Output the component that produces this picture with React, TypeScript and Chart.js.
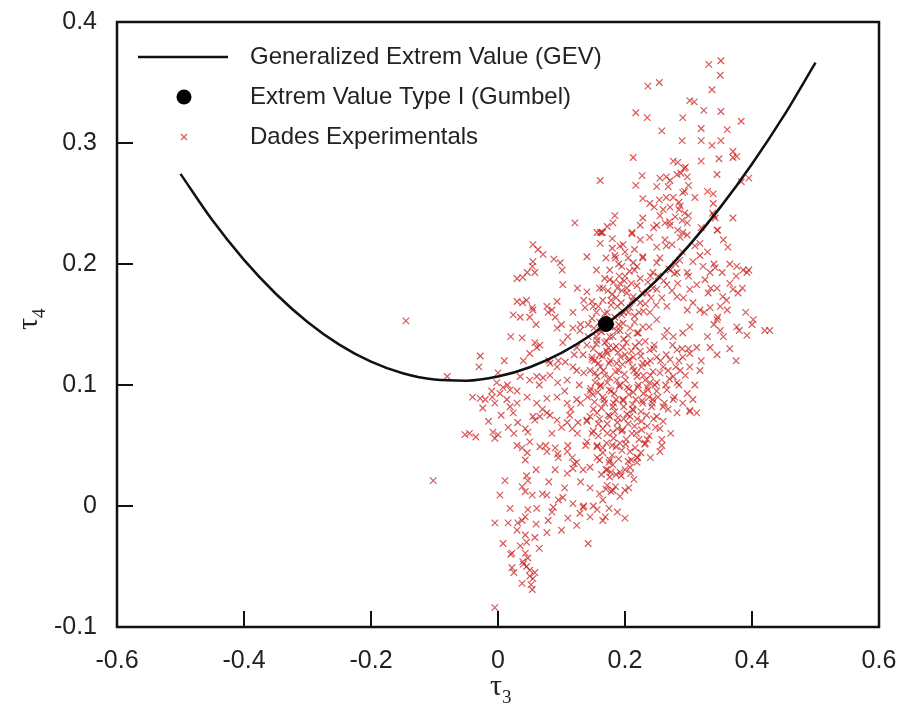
import React, { useEffect, useRef } from "react";
import { Chart, registerables } from "chart.js";

Chart.register(...registerables);

// GEV theoretical curve (tau3, tau4)
const GEV_T3 = [-0.5, -0.45, -0.4, -0.35, -0.3, -0.25, -0.2, -0.15, -0.1, -0.05, 0, 0.05, 0.1, 0.15, 0.2, 0.25, 0.3, 0.35, 0.4, 0.45, 0.5];
const GEV_T4 = [0.2745, 0.2363, 0.2034, 0.1754, 0.1521, 0.1334, 0.1193, 0.1097, 0.1045, 0.1036, 0.107, 0.1147, 0.1265, 0.1425, 0.1626, 0.1867, 0.2148, 0.2468, 0.2827, 0.3224, 0.3665];

// Gumbel point
const GUMBEL: [number, number] = [0.1699, 0.1504];

// Experimental data (tau3, tau4), grouped by region
const EXP_UPPER: [number, number][] = [
  [0.332, 0.365], [0.351, 0.368], [0.350, 0.356], [0.236, 0.347], [0.254, 0.350], [0.337, 0.344],
  [0.302, 0.335], [0.309, 0.334], [0.324, 0.327], [0.351, 0.326], [0.217, 0.325], [0.235, 0.321],
  [0.291, 0.321], [0.383, 0.318], [0.320, 0.312], [0.361, 0.311], [0.258, 0.310], [0.290, 0.302],
  [0.320, 0.302], [0.337, 0.298], [0.351, 0.302], [0.370, 0.293], [0.376, 0.289], [0.370, 0.288],
  [0.213, 0.288], [0.348, 0.287], [0.276, 0.285], [0.283, 0.284], [0.293, 0.279], [0.345, 0.274],
  [0.161, 0.269], [0.227, 0.273], [0.217, 0.265], [0.255, 0.271], [0.265, 0.272], [0.271, 0.269],
  [0.282, 0.274], [0.288, 0.275], [0.298, 0.272], [0.383, 0.268], [0.395, 0.271], [0.250, 0.264],
  [0.268, 0.264], [0.339, 0.258], [0.339, 0.250], [0.291, 0.259], [0.294, 0.260], [0.228, 0.254],
  [0.239, 0.250], [0.254, 0.253], [0.265, 0.255], [0.276, 0.255], [0.285, 0.251], [0.246, 0.247],
  [0.260, 0.245], [0.271, 0.247], [0.287, 0.248], [0.340, 0.240], [0.342, 0.238], [0.338, 0.242],
  [0.370, 0.238], [0.121, 0.234], [0.184, 0.240], [0.181, 0.234], [0.172, 0.231], [0.156, 0.226],
  [0.164, 0.226], [0.228, 0.238], [0.224, 0.232], [0.211, 0.225], [0.255, 0.240], [0.263, 0.234],
  [0.279, 0.239], [0.290, 0.236], [0.294, 0.242], [0.298, 0.234], [0.250, 0.232], [0.271, 0.232],
  [0.283, 0.228], [0.291, 0.226], [0.346, 0.228],
];

const EXP_LEFT: [number, number][] = [
  [0.055, 0.216], [0.063, 0.212], [0.071, 0.208], [0.140, 0.206], [0.161, 0.217], [0.164, 0.226],
  [0.088, 0.204], [0.098, 0.201], [0.101, 0.195], [0.055, 0.202], [0.054, 0.198], [0.058, 0.193],
  [0.046, 0.193], [0.039, 0.189], [0.030, 0.188], [0.102, 0.183], [0.140, 0.177], [0.148, 0.169],
  [0.137, 0.164], [0.093, 0.169], [0.077, 0.165], [0.085, 0.162], [0.079, 0.160], [0.090, 0.156],
  [0.093, 0.147], [0.030, 0.169], [0.039, 0.168], [0.054, 0.164], [0.055, 0.162], [0.024, 0.158],
  [0.035, 0.156], [0.050, 0.156], [0.118, 0.147], [0.129, 0.145], [0.038, 0.139], [0.058, 0.135],
  [0.066, 0.133], [0.061, 0.131], [0.050, 0.126], [0.102, 0.135], [-0.028, 0.124], [0.124, 0.131],
  [0.140, 0.133], [0.134, 0.125], [0.148, 0.123], [0.082, 0.118], [0.093, 0.115], [0.106, 0.119],
  [0.118, 0.115], [0.124, 0.112], [-0.080, 0.107], [-0.002, 0.102], [0.008, 0.098], [0.019, 0.096],
  [0.003, 0.093], [0.035, 0.107], [0.050, 0.104], [0.061, 0.107], [0.071, 0.106], [0.082, 0.108],
  [0.094, 0.102], [0.109, 0.104], [-0.028, 0.089], [-0.020, 0.088], [-0.009, 0.090], [-0.005, 0.085],
  [0.014, 0.088], [-0.024, 0.081], [0.019, 0.082], [0.030, 0.085], [0.046, 0.090], [0.061, 0.085],
  [0.077, 0.089], [0.093, 0.090], [0.109, 0.085], [0.124, 0.088], [0.024, 0.077], [0.055, 0.074],
  [0.082, 0.075], [0.113, 0.075], [-0.145, 0.153], [-0.102, 0.021], [-0.035, 0.057],
  [0.020, 0.140], [0.010, 0.120], [0.000, 0.110], [0.015, 0.100], [-0.010, 0.095], [0.005, 0.075],
  [-0.015, 0.070], [0.025, 0.060], [0.065, 0.100], [0.070, 0.080], [0.080, 0.120], [0.060, 0.150],
  [0.045, 0.170], [0.040, 0.120], [0.030, 0.095], [-0.040, 0.090], [-0.030, 0.115], [-0.045, 0.060],
  [0.125, 0.180], [0.135, 0.170], [0.118, 0.160], [0.130, 0.150], [0.110, 0.140], [0.120, 0.125],
  [0.100, 0.150], [0.095, 0.120], [0.105, 0.095], [0.115, 0.080], [0.100, 0.065], [0.085, 0.060],
];

const EXP_CORE: [number, number][] = [
  [0.161, 0.226], [0.180, 0.221], [0.197, 0.216], [0.211, 0.226], [0.224, 0.220], [0.239, 0.222],
  [0.250, 0.214], [0.263, 0.220], [0.287, 0.222], [0.274, 0.216], [0.298, 0.224], [0.318, 0.217],
  [0.345, 0.228], [0.318, 0.207], [0.184, 0.207], [0.213, 0.201], [0.219, 0.198], [0.228, 0.206],
  [0.250, 0.201], [0.244, 0.193], [0.271, 0.195], [0.282, 0.193], [0.298, 0.193], [0.307, 0.202],
  [0.323, 0.198], [0.334, 0.193], [0.342, 0.197], [0.353, 0.193], [0.362, 0.214], [0.376, 0.198],
  [0.386, 0.195], [0.392, 0.193], [0.370, 0.179], [0.378, 0.176], [0.365, 0.184], [0.176, 0.187],
  [0.192, 0.184], [0.203, 0.180], [0.213, 0.173], [0.224, 0.188], [0.235, 0.176], [0.250, 0.179],
  [0.266, 0.183], [0.282, 0.173], [0.302, 0.179], [0.313, 0.183], [0.326, 0.187], [0.331, 0.176],
  [0.345, 0.180], [0.354, 0.173], [0.307, 0.168], [0.298, 0.162], [0.318, 0.162], [0.334, 0.164],
  [0.346, 0.156], [0.361, 0.162], [0.208, 0.164], [0.224, 0.168], [0.402, 0.154], [0.420, 0.145],
  [0.376, 0.148], [0.392, 0.141], [0.345, 0.154], [0.350, 0.145], [0.334, 0.131], [0.302, 0.148],
  [0.291, 0.143], [0.276, 0.140], [0.266, 0.145], [0.250, 0.154], [0.239, 0.160], [0.228, 0.148],
  [0.219, 0.143], [0.197, 0.151], [0.187, 0.145], [0.176, 0.140], [0.161, 0.145], [0.156, 0.137],
  [0.313, 0.131], [0.302, 0.126], [0.291, 0.123], [0.282, 0.129], [0.271, 0.121], [0.260, 0.115],
  [0.250, 0.123], [0.239, 0.129], [0.228, 0.118], [0.213, 0.123], [0.197, 0.131], [0.187, 0.118],
  [0.172, 0.126], [0.161, 0.115], [0.318, 0.112], [0.302, 0.115], [0.287, 0.112], [0.276, 0.107],
  [0.156, 0.107], [0.172, 0.102], [0.187, 0.104], [0.203, 0.098], [0.219, 0.107], [0.235, 0.098],
  [0.250, 0.102], [0.266, 0.096], [0.282, 0.102], [0.298, 0.093], [0.307, 0.088], [0.291, 0.085],
  [0.276, 0.088], [0.260, 0.082], [0.244, 0.088], [0.228, 0.085], [0.213, 0.079], [0.197, 0.088],
  [0.181, 0.082], [0.165, 0.090], [0.156, 0.077], [0.176, 0.074], [0.208, 0.074], [0.250, 0.074],
  [0.282, 0.077], [0.302, 0.078], [0.165, 0.170], [0.172, 0.160], [0.180, 0.175], [0.188, 0.165],
  [0.195, 0.158], [0.160, 0.152], [0.176, 0.148], [0.190, 0.150], [0.205, 0.160], [0.215, 0.152],
  [0.168, 0.135], [0.182, 0.130], [0.198, 0.138], [0.210, 0.128], [0.222, 0.135], [0.160, 0.125],
  [0.175, 0.118], [0.190, 0.112], [0.205, 0.120], [0.218, 0.110], [0.235, 0.118], [0.162, 0.100],
  [0.178, 0.095], [0.192, 0.100], [0.206, 0.092], [0.220, 0.098], [0.238, 0.090], [0.168, 0.085],
  [0.184, 0.078], [0.198, 0.072], [0.212, 0.080], [0.226, 0.070], [0.242, 0.082], [0.158, 0.068],
  [0.172, 0.060], [0.188, 0.064], [0.202, 0.055], [0.218, 0.060], [0.232, 0.052], [0.165, 0.048],
  [0.180, 0.042], [0.195, 0.046], [0.210, 0.038], [0.225, 0.044], [0.170, 0.030], [0.186, 0.026],
  [0.200, 0.030], [0.214, 0.022], [0.178, 0.012], [0.192, 0.008], [0.206, 0.015], [0.188, -0.005],
  [0.200, -0.010], [0.175, -0.002], [0.135, 0.110], [0.145, 0.095], [0.150, 0.080], [0.140, 0.070],
  [0.130, 0.085], [0.148, 0.060], [0.138, 0.050], [0.152, 0.120], [0.128, 0.100], [0.155, 0.140],
  [0.142, 0.150], [0.150, 0.165], [0.245, 0.130], [0.255, 0.110], [0.265, 0.125], [0.270, 0.105],
  [0.285, 0.100], [0.250, 0.095], [0.262, 0.085], [0.278, 0.090], [0.295, 0.108], [0.248, 0.065],
  [0.260, 0.070], [0.272, 0.060], [0.240, 0.040], [0.255, 0.045], [0.268, 0.080], [0.285, 0.120],
  [0.300, 0.130], [0.310, 0.100], [0.320, 0.120], [0.330, 0.140], [0.325, 0.160], [0.340, 0.150],
  [0.350, 0.165], [0.335, 0.180], [0.360, 0.170], [0.355, 0.140], [0.345, 0.125], [0.190, 0.200],
  [0.200, 0.210], [0.215, 0.195], [0.228, 0.205], [0.240, 0.190], [0.255, 0.205], [0.265, 0.215],
  [0.280, 0.200], [0.290, 0.210], [0.300, 0.190], [0.310, 0.215], [0.245, 0.230], [0.270, 0.235],
  [0.285, 0.245], [0.300, 0.240], [0.310, 0.255], [0.320, 0.230], [0.330, 0.210], [0.340, 0.200],
  [0.300, 0.265], [0.295, 0.280], [0.320, 0.285], [0.330, 0.260], [0.340, 0.240], [0.355, 0.220],
  [0.365, 0.200], [0.375, 0.190], [0.385, 0.180], [0.390, 0.160], [0.395, 0.195], [0.380, 0.145],
  [0.400, 0.150], [0.365, 0.130], [0.375, 0.120], [0.428, 0.145],
];

// Densest cluster just below the Gumbel point
const EXP_DENSE: [number, number][] = [
  [0.168, 0.159], [0.184, 0.156], [0.198, 0.160], [0.215, 0.157], [0.229, 0.161],
  [0.151, 0.147], [0.163, 0.144], [0.179, 0.148], [0.192, 0.145], [0.208, 0.147], [0.221, 0.143], [0.238, 0.148],
  [0.155, 0.134], [0.171, 0.136], [0.186, 0.132], [0.202, 0.135], [0.216, 0.132], [0.232, 0.136], [0.246, 0.133],
  [0.148, 0.121], [0.164, 0.124], [0.177, 0.120], [0.193, 0.123], [0.207, 0.121], [0.225, 0.124], [0.240, 0.120],
  [0.153, 0.110], [0.168, 0.108], [0.185, 0.111], [0.199, 0.109], [0.214, 0.112], [0.229, 0.108], [0.244, 0.111],
  [0.146, 0.097], [0.161, 0.099], [0.175, 0.096], [0.191, 0.099], [0.206, 0.097], [0.221, 0.100], [0.236, 0.096],
  [0.152, 0.086], [0.167, 0.088], [0.182, 0.085], [0.197, 0.087], [0.212, 0.084], [0.227, 0.087], [0.243, 0.085],
  [0.145, 0.074], [0.160, 0.072], [0.174, 0.075], [0.189, 0.073], [0.203, 0.076], [0.219, 0.072], [0.234, 0.075],
  [0.150, 0.062], [0.165, 0.064], [0.181, 0.061], [0.196, 0.063], [0.211, 0.060], [0.226, 0.063],
  [0.156, 0.050], [0.171, 0.052], [0.186, 0.049], [0.201, 0.051], [0.216, 0.048], [0.231, 0.051],
  [0.160, 0.038], [0.175, 0.036], [0.190, 0.039], [0.205, 0.037], [0.220, 0.040],
  [0.163, 0.026], [0.178, 0.028], [0.194, 0.025], [0.209, 0.027],
  [0.170, 0.014], [0.185, 0.016], [0.200, 0.013],
  [0.176, 0.106], [0.183, 0.093], [0.196, 0.117], [0.171, 0.128], [0.205, 0.141], [0.188, 0.069],
  [0.163, 0.081], [0.213, 0.094], [0.226, 0.115], [0.158, 0.058], [0.182, 0.056], [0.198, 0.082],
];

// Extra points along and around the curve near the Gumbel point
const EXP_NEAR_CURVE: [number, number][] = [
  [0.178, 0.166], [0.186, 0.172], [0.194, 0.168], [0.203, 0.176], [0.211, 0.170], [0.219, 0.182],
  [0.227, 0.176], [0.236, 0.185], [0.244, 0.180], [0.252, 0.190], [0.261, 0.186], [0.269, 0.196],
  [0.278, 0.192], [0.286, 0.203], [0.173, 0.178], [0.182, 0.185], [0.191, 0.190], [0.199, 0.186],
  [0.207, 0.194], [0.222, 0.160], [0.232, 0.167], [0.241, 0.172], [0.249, 0.166], [0.258, 0.172],
  [0.266, 0.165], [0.274, 0.178], [0.283, 0.184], [0.292, 0.172], [0.148, 0.155], [0.155, 0.160],
  [0.142, 0.140], [0.150, 0.130], [0.158, 0.118], [0.145, 0.112], [0.153, 0.102], [0.141, 0.090],
  [0.149, 0.092], [0.157, 0.094], [0.166, 0.112], [0.174, 0.131], [0.181, 0.140], [0.189, 0.127],
  [0.200, 0.125], [0.212, 0.115], [0.224, 0.128], [0.232, 0.104], [0.240, 0.108], [0.247, 0.100],
  [0.195, 0.062], [0.205, 0.068], [0.215, 0.066], [0.225, 0.078], [0.235, 0.066], [0.245, 0.072],
  [0.192, 0.052], [0.208, 0.045], [0.222, 0.055], [0.238, 0.058], [0.180, 0.050], [0.172, 0.068],
  [0.186, 0.088], [0.201, 0.104], [0.217, 0.088], [0.229, 0.093], [0.239, 0.102], [0.252, 0.090],
  [0.264, 0.100], [0.256, 0.120], [0.268, 0.112], [0.280, 0.115], [0.290, 0.130], [0.275, 0.133],
  [0.262, 0.140], [0.176, 0.195], [0.185, 0.205], [0.195, 0.198], [0.205, 0.205], [0.215, 0.212],
  [0.168, 0.188], [0.160, 0.180], [0.170, 0.205], [0.180, 0.213], [0.192, 0.215], [0.155, 0.195],
  [0.200, 0.190], [0.188, 0.180], [0.178, 0.170], [0.195, 0.178], [0.210, 0.184], [0.158, 0.165],
  [0.165, 0.180],
];

const EXP_LOWER: [number, number][] = [
  [-0.052, 0.059], [-0.008, 0.061], [0.000, 0.059], [-0.005, 0.056], [0.016, 0.065], [0.031, 0.069],
  [0.043, 0.064], [0.047, 0.061], [0.058, 0.071], [0.066, 0.074], [0.077, 0.077], [0.093, 0.071],
  [0.109, 0.069], [0.117, 0.064], [0.126, 0.069], [0.140, 0.071], [0.030, 0.050], [0.038, 0.048],
  [0.046, 0.044], [0.043, 0.038], [0.050, 0.053], [0.066, 0.049], [0.077, 0.045], [0.090, 0.048],
  [0.094, 0.043], [0.109, 0.045], [0.117, 0.040], [0.124, 0.036], [0.140, 0.053], [0.156, 0.049],
  [0.165, 0.044], [0.156, 0.040], [0.176, 0.038], [0.145, 0.032], [0.134, 0.030], [0.172, 0.030],
  [0.181, 0.034], [0.090, 0.030], [0.109, 0.027], [0.118, 0.031], [0.011, 0.021], [0.038, 0.016],
  [0.047, 0.021], [0.043, 0.012], [0.054, 0.009], [0.003, 0.009], [0.077, 0.009], [0.102, 0.007],
  [0.087, -0.001], [0.061, -0.002], [0.047, -0.003], [0.019, -0.002], [0.118, 0.002], [0.134, -0.001],
  [0.129, -0.006], [0.145, -0.009], [0.156, -0.003], [0.165, -0.012], [0.124, -0.016], [-0.005, -0.014],
  [0.016, -0.014], [0.038, -0.012], [0.031, -0.014], [0.043, -0.009], [0.079, -0.012], [0.008, -0.031],
  [0.022, -0.039], [0.043, -0.024], [0.058, -0.026], [0.077, -0.022], [0.043, -0.039], [0.047, -0.043],
  [0.039, -0.046], [0.022, -0.051], [0.050, -0.053], [0.058, -0.055], [0.055, -0.060], [0.038, -0.064],
  [0.054, -0.069], [0.142, -0.031], [-0.005, -0.084], [0.302, 0.079], [0.313, 0.077], [0.255, 0.064],
  [0.258, 0.055], [0.258, 0.050], [0.235, 0.055], [0.219, 0.040], [0.219, 0.036], [0.208, 0.032],
  [0.192, 0.028], [0.176, 0.024], [0.172, 0.017], [0.181, 0.013], [0.165, 0.005], [0.169, -0.009],
  [0.075, 0.050], [0.095, 0.040], [0.110, 0.050], [0.125, 0.060], [0.120, 0.035], [0.130, 0.020],
  [0.145, 0.015], [0.150, 0.000], [0.160, 0.010], [0.135, 0.000], [0.045, 0.025], [0.060, 0.030],
  [0.070, 0.010], [0.080, 0.020], [0.085, -0.005], [0.095, 0.005], [0.105, 0.015], [0.100, -0.020],
  [0.110, -0.010], [0.065, -0.035], [0.030, -0.020], [0.020, -0.040], [0.045, -0.030], [0.060, -0.015],
  [0.050, -0.058], [0.045, -0.050], [0.052, -0.065], [0.040, -0.048], [0.035, -0.033], [0.025, -0.055],
];

const X_MIN = -0.6, X_MAX = 0.6, X_STEP = 0.2;
const Y_MIN = -0.1, Y_MAX = 0.4, Y_STEP = 0.1;
const X_INNER_TICKS = [-0.4, -0.2, 0, 0.2, 0.4];
const Y_INNER_TICKS = [0, 0.1, 0.2, 0.3];

const LEGEND_LABELS = [
  "Generalized Extrem Value (GEV)",
  "Extrem Value Type I (Gumbel)",
  "Dades Experimentals",
];

const SCATTER_COLOR = "rgba(200, 25, 25, 0.72)";
const TICK_FONT = "'Liberation Sans', Arial, sans-serif";
const SERIF_FONT = "'Liberation Serif', 'Times New Roman', serif";

const fmt = (v: number) => {
  const r = Math.round(v * 10) / 10;
  return r === 0 ? "0" : String(r);
};

const framePlugin = {
  id: "frame",
  beforeDraw(chart: any) {
    const ctx = chart.ctx;
    ctx.save();
    ctx.fillStyle = "#ffffff";
    ctx.fillRect(0, 0, chart.width, chart.height);
    ctx.restore();
  },
  afterDraw(chart: any) {
    const ctx = chart.ctx;
    const { left, right, top, bottom } = chart.chartArea;
    const xs = chart.scales.x;
    const ys = chart.scales.y;
    ctx.save();
    ctx.strokeStyle = "#111";
    ctx.lineWidth = 2.5;
    ctx.strokeRect(left, top, right - left, bottom - top);
    ctx.lineWidth = 2;
    ctx.beginPath();
    X_INNER_TICKS.forEach((v) => {
      const px = Math.round(xs.getPixelForValue(v));
      ctx.moveTo(px, bottom);
      ctx.lineTo(px, bottom - 16);
    });
    Y_INNER_TICKS.forEach((v) => {
      const py = Math.round(ys.getPixelForValue(v));
      ctx.moveTo(left, py);
      ctx.lineTo(left + 16, py);
    });
    ctx.stroke();

    // axis titles
    ctx.fillStyle = "#222";
    ctx.textBaseline = "alphabetic";
    const cx = (left + right) / 2;
    ctx.font = `30px ${SERIF_FONT}`;
    ctx.textAlign = "right";
    ctx.fillText("τ", cx + 4, 695);
    ctx.font = `19px ${SERIF_FONT}`;
    ctx.textAlign = "left";
    ctx.fillText("3", cx + 4, 703);

    ctx.save();
    ctx.translate(37, 322);
    ctx.rotate(-Math.PI / 2);
    ctx.font = `30px ${SERIF_FONT}`;
    ctx.textAlign = "right";
    ctx.fillText("τ", 4, 0);
    ctx.font = `19px ${SERIF_FONT}`;
    ctx.textAlign = "left";
    ctx.fillText("4", 4, 8);
    ctx.restore();

    // legend
    const rows = [57, 97, 137];
    const textX = 250;
    ctx.font = `24px ${TICK_FONT}`;
    ctx.textBaseline = "middle";
    ctx.textAlign = "left";
    ctx.fillStyle = "#222";
    LEGEND_LABELS.forEach((t, i) => ctx.fillText(t, textX, rows[i]));
    ctx.strokeStyle = "#111";
    ctx.lineWidth = 2.5;
    ctx.beginPath();
    ctx.moveTo(138, rows[0]);
    ctx.lineTo(228, rows[0]);
    ctx.stroke();
    ctx.fillStyle = "#000";
    ctx.beginPath();
    ctx.arc(184, rows[1], 7.5, 0, Math.PI * 2);
    ctx.fill();
    ctx.strokeStyle = SCATTER_COLOR;
    ctx.lineWidth = 1.2;
    ctx.beginPath();
    ctx.moveTo(181, rows[2] - 3);
    ctx.lineTo(187, rows[2] + 3);
    ctx.moveTo(187, rows[2] - 3);
    ctx.lineTo(181, rows[2] + 3);
    ctx.stroke();
    ctx.restore();
  },
};

const zeroPad = (s: any) => {
  s.paddingLeft = 0;
  s.paddingRight = 0;
  s.paddingTop = 0;
  s.paddingBottom = 0;
};

export default function App() {
  const ref = useRef<HTMLCanvasElement | null>(null);

  useEffect(() => {
    document.body.style.margin = "0";
    const canvas = ref.current;
    if (!canvas) return;
    const toPts = (arr: [number, number][]) => arr.map(([x, y]) => ({ x, y }));
    const expData = [...EXP_UPPER, ...EXP_LEFT, ...EXP_CORE, ...EXP_DENSE, ...EXP_NEAR_CURVE, ...EXP_LOWER];
    const chart = new Chart(canvas, {
      type: "scatter",
      data: {
        datasets: [
          {
            label: LEGEND_LABELS[1],
            data: [{ x: GUMBEL[0], y: GUMBEL[1] }],
            pointRadius: 7.5,
            pointBackgroundColor: "#000",
            pointBorderColor: "#000",
            order: 0,
          } as any,
          {
            label: LEGEND_LABELS[0],
            type: "line",
            data: GEV_T3.map((x, i) => ({ x, y: GEV_T4[i] })),
            borderColor: "#111",
            borderWidth: 2.5,
            pointRadius: 0,
            fill: false,
            cubicInterpolationMode: "monotone",
            order: 1,
          } as any,
          {
            label: LEGEND_LABELS[2],
            data: toPts(expData),
            pointStyle: "crossRot",
            pointRadius: 4.6,
            pointBorderColor: SCATTER_COLOR,
            pointBorderWidth: 1.2,
            pointBackgroundColor: SCATTER_COLOR,
            order: 2,
          } as any,
        ],
      },
      options: {
        animation: false,
        responsive: false,
        maintainAspectRatio: false,
        layout: { autoPadding: false, padding: { left: 0, right: 21, top: 22, bottom: 0 } },
        plugins: { legend: { display: false }, tooltip: { enabled: false } },
        scales: {
          x: {
            type: "linear",
            min: X_MIN,
            max: X_MAX,
            grid: { display: false, drawTicks: false },
            border: { display: false },
            ticks: {
              stepSize: X_STEP,
              padding: 19,
              color: "#222",
              font: { family: TICK_FONT, size: 25 },
              callback: (v: any) => fmt(Number(v)),
              maxRotation: 0,
            },
            afterFit: (s: any) => {
              s.height = 93;
              zeroPad(s);
            },
          },
          y: {
            type: "linear",
            min: Y_MIN,
            max: Y_MAX,
            grid: { display: false, drawTicks: false },
            border: { display: false },
            ticks: {
              stepSize: Y_STEP,
              padding: 20,
              color: "#222",
              font: { family: TICK_FONT, size: 25 },
              callback: (v: any) => fmt(Number(v)),
            },
            afterFit: (s: any) => {
              s.width = 117;
              zeroPad(s);
            },
          },
        },
      } as any,
      plugins: [framePlugin],
    });
    return () => chart.destroy();
  }, []);

  return <canvas ref={ref} width={900} height={720} style={{ display: "block" }} />;
}
